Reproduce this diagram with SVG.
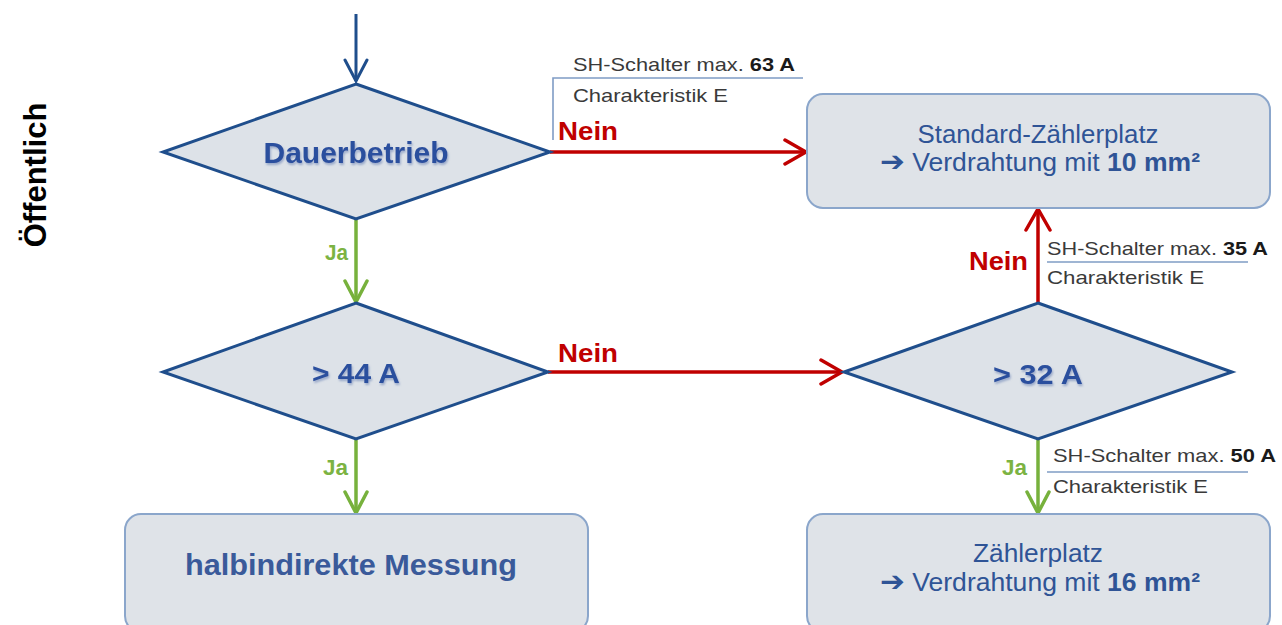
<svg xmlns="http://www.w3.org/2000/svg" width="1282" height="625" viewBox="0 0 1282 625">
  <style>
    .diamond { fill: #dde2e8; stroke: #1f4e8c; stroke-width: 3; stroke-linejoin: miter; }
    .box { fill: #dfe3e8; stroke: #8ba6cb; stroke-width: 2; }
    .dtext { font-family: "Liberation Sans", Arial, sans-serif; font-weight: bold; fill: #2c4f9e; text-anchor: middle; filter: url(#soft); }
    .btext { font-family: "Liberation Sans", Arial, sans-serif; fill: #2f5496; text-anchor: middle; font-size: 25px; }
    .bigtext { font-family: "Liberation Sans", Arial, sans-serif; font-weight: bold; fill: #3a5a9a; font-size: 29px; text-anchor: middle; }
    .note { font-family: "Liberation Sans", Arial, sans-serif; fill: #3a3a3a; font-size: 19px; }
    .note tspan.b { font-weight: bold; fill: #1a1a1a; }
    .rule { stroke: #7f9cc5; stroke-width: 1.6; fill: none; }
    .red { stroke: #c00000; stroke-width: 3.5; fill: none; }
    .green { stroke: #77b13c; stroke-width: 3.5; fill: none; }
    .blue { stroke: #1f4e8c; stroke-width: 3; fill: none; }
    .nein { font-family: "Liberation Sans", Arial, sans-serif; font-weight: bold; fill: #c00000; font-size: 25px; }
    .ja { font-family: "Liberation Sans", Arial, sans-serif; font-weight: bold; fill: #7cb342; font-size: 22px; }
    .arw { font-family: "DejaVu Sans", sans-serif; font-weight: bold; font-size: 28px; }
  </style>
  <defs>
    <filter id="soft" x="-10%" y="-30%" width="120%" height="160%">
      <feGaussianBlur in="SourceAlpha" stdDeviation="1.2" result="b"/>
      <feOffset in="b" dx="1" dy="1.5" result="o"/>
      <feFlood flood-color="#5f79b0" flood-opacity="0.55"/>
      <feComposite in2="o" operator="in" result="s"/>
      <feMerge><feMergeNode in="s"/><feMergeNode in="SourceGraphic"/></feMerge>
    </filter>
    <marker id="headRed" viewBox="0 0 26 28" refX="23" refY="14" markerWidth="26" markerHeight="28" markerUnits="userSpaceOnUse" orient="auto">
      <path d="M2,2 L23,14 L2,26" fill="none" stroke="#c00000" stroke-width="3.5" stroke-linecap="round" stroke-linejoin="miter"/>
    </marker>
    <marker id="headGreen" viewBox="0 0 26 28" refX="23" refY="14" markerWidth="26" markerHeight="28" markerUnits="userSpaceOnUse" orient="auto">
      <path d="M2,3 L23,14 L2,25" fill="none" stroke="#77b13c" stroke-width="3.5" stroke-linecap="round"/>
    </marker>
    <marker id="headBlue" viewBox="0 0 26 28" refX="23" refY="14" markerWidth="26" markerHeight="28" markerUnits="userSpaceOnUse" orient="auto">
      <path d="M2,3 L23,14 L2,25" fill="none" stroke="#1f4e8c" stroke-width="3" stroke-linecap="round"/>
    </marker>
  </defs>

  <rect width="1282" height="625" fill="#ffffff"/>

  <!-- side caption -->
  <text x="46" y="175" transform="rotate(-90 46 175)" font-family="Liberation Sans, Arial, sans-serif" font-weight="bold" font-size="31" text-anchor="middle" fill="#000000">Öffentlich</text>

  <!-- connectors -->
  <g id="connectors">
    <line class="blue" x1="356" y1="14" x2="356" y2="81" marker-end="url(#headBlue)"/>
    <line class="red" x1="550" y1="152" x2="806" y2="152" marker-end="url(#headRed)"/>
    <line class="green" x1="356" y1="219" x2="356" y2="302" marker-end="url(#headGreen)"/>
    <line class="red" x1="548" y1="372" x2="842" y2="372" marker-end="url(#headRed)"/>
    <line class="green" x1="356" y1="439" x2="356" y2="513" marker-end="url(#headGreen)"/>
    <line class="red" x1="1038" y1="303" x2="1038" y2="209" marker-end="url(#headRed)"/>
    <line class="green" x1="1038" y1="439" x2="1038" y2="513" marker-end="url(#headGreen)"/>

    <text class="nein" x="558" y="140" textLength="60" lengthAdjust="spacingAndGlyphs">Nein</text>
    <text class="nein" x="558" y="362" textLength="60" lengthAdjust="spacingAndGlyphs">Nein</text>
    <text class="nein" x="969" y="270" textLength="59" lengthAdjust="spacingAndGlyphs">Nein</text>
    <text class="ja" x="325" y="260" textLength="23" lengthAdjust="spacingAndGlyphs">Ja</text>
    <text class="ja" x="323" y="475" textLength="25" lengthAdjust="spacingAndGlyphs">Ja</text>
    <text class="ja" x="1002" y="475" textLength="25" lengthAdjust="spacingAndGlyphs">Ja</text>
  </g>

  <!-- breaker notes -->
  <g id="note-63">
    <path class="rule" d="M553,140 V78 H803"/>
    <text class="note" x="573" y="71" textLength="222" lengthAdjust="spacingAndGlyphs">SH-Schalter max. <tspan class="b">63 A</tspan></text>
    <text class="note" x="573" y="102" textLength="155" lengthAdjust="spacingAndGlyphs">Charakteristik E</text>
  </g>
  <g id="note-35">
    <line class="rule" x1="1047" y1="262" x2="1248" y2="262"/>
    <text class="note" x="1047" y="255" textLength="221" lengthAdjust="spacingAndGlyphs">SH-Schalter max. <tspan class="b">35 A</tspan></text>
    <text class="note" x="1047" y="284" textLength="157" lengthAdjust="spacingAndGlyphs">Charakteristik E</text>
  </g>
  <g id="note-50">
    <line class="rule" x1="1047" y1="472" x2="1248" y2="472"/>
    <text class="note" x="1053" y="462" textLength="223" lengthAdjust="spacingAndGlyphs">SH-Schalter max. <tspan class="b">50 A</tspan></text>
    <text class="note" x="1053" y="493" textLength="155" lengthAdjust="spacingAndGlyphs">Charakteristik E</text>
  </g>

  <!-- decisions -->
  <g id="dauerbetrieb">
    <polygon class="diamond" points="356,84 550,152 356,219 163,152"/>
    <text class="dtext" x="356" y="163" font-size="29" textLength="185" lengthAdjust="spacingAndGlyphs">Dauerbetrieb</text>
  </g>
  <g id="gt44">
    <polygon class="diamond" points="356,303 548,372 356,439 163,372"/>
    <text class="dtext" x="356" y="383" font-size="27" textLength="88" lengthAdjust="spacingAndGlyphs">&gt; 44 A</text>
  </g>
  <g id="gt32">
    <polygon class="diamond" points="1038,303 1232,372 1038,439 844,372"/>
    <text class="dtext" x="1038" y="384" font-size="27" textLength="90" lengthAdjust="spacingAndGlyphs">&gt; 32 A</text>
  </g>

  <!-- outcomes -->
  <g id="standard-zaehlerplatz">
    <rect class="box" x="807" y="94" width="463" height="114" rx="16"/>
    <text class="btext" x="1038" y="143" textLength="241" lengthAdjust="spacingAndGlyphs">Standard-Zählerplatz</text>
    <text class="btext" x="1040" y="171" textLength="320" lengthAdjust="spacingAndGlyphs"><tspan class="arw">➔</tspan> Verdrahtung mit <tspan font-weight="bold">10 mm²</tspan></text>
  </g>
  <g id="halbindirekt">
    <rect class="box" x="125" y="514" width="463" height="118" rx="16"/>
    <text class="bigtext" x="351" y="575" textLength="332" lengthAdjust="spacingAndGlyphs">halbindirekte Messung</text>
  </g>
  <g id="zaehlerplatz">
    <rect class="box" x="807" y="514" width="463" height="118" rx="16"/>
    <text class="btext" x="1038" y="562" textLength="130" lengthAdjust="spacingAndGlyphs">Zählerplatz</text>
    <text class="btext" x="1040" y="591" textLength="320" lengthAdjust="spacingAndGlyphs"><tspan class="arw">➔</tspan> Verdrahtung mit <tspan font-weight="bold">16 mm²</tspan></text>
  </g>
</svg>
